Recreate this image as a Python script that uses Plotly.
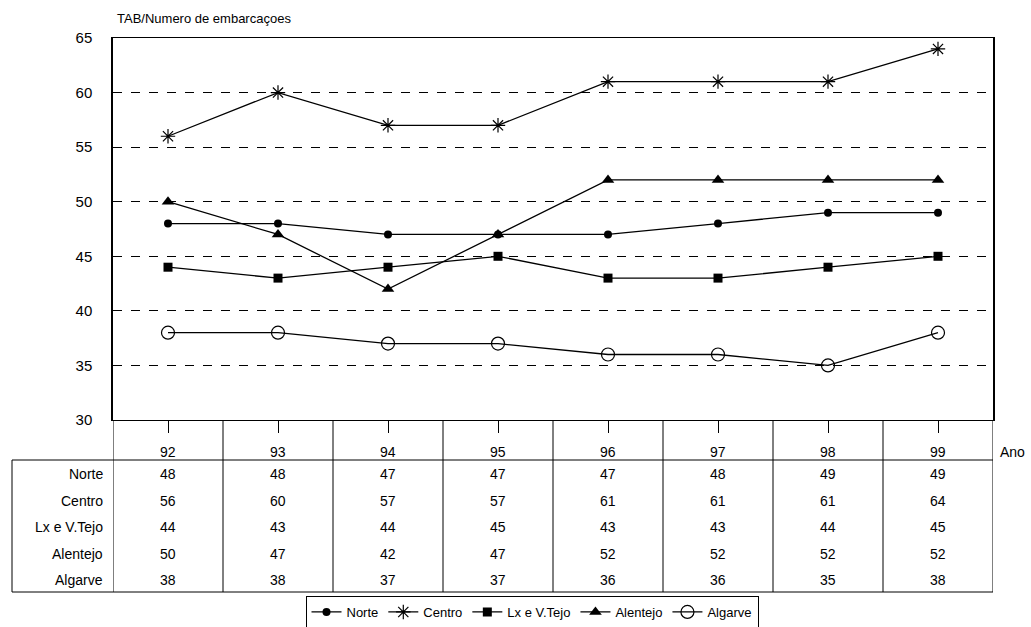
import plotly.graph_objects as go

# Annual values per region (TAB / number of vessels)
anos = ["92", "93", "94", "95", "96", "97", "98", "99"]
regioes = ["Norte", "Centro", "Lx e V.Tejo", "Alentejo", "Algarve"]
norte = [48, 48, 47, 47, 47, 48, 49, 49]
centro = [56, 60, 57, 57, 61, 61, 61, 64]
lx_vtejo = [44, 43, 44, 45, 43, 43, 44, 45]
alentejo = [50, 47, 42, 47, 52, 52, 52, 52]
algarve = [38, 38, 37, 37, 36, 36, 35, 38]
y_ticks = [30, 35, 40, 45, 50, 55, 60, 65]

series = [norte, centro, lx_vtejo, alentejo, algarve]
markers = [
    dict(symbol="circle", size=8, color="black"),
    dict(symbol="asterisk-open", size=12, color="black", line=dict(width=1.2, color="black")),
    dict(symbol="square", size=9, color="black"),
    dict(symbol="triangle-up", size=11, color="black"),
    dict(symbol="circle-open", size=13, color="black", line=dict(width=1.2, color="black")),
]

FONT = "Liberation Sans, Arial, sans-serif"

# plot area geometry in pixels
W, H = 1031, 627
L, R, T, B = 113, 38, 38, 207
PH = H - T - B
PW = W - L - R


def py(pix):
    """pixel row -> paper y"""
    return (H - B - pix) / PH


def px(pix):
    """pixel column -> paper x"""
    return (pix - L) / PW


fig = go.Figure()
for name, vals, mk in zip(regioes, series, markers):
    fig.add_trace(go.Scatter(
        x=anos, y=vals, name=name, mode="lines+markers",
        line=dict(color="black", width=1.3),
        marker=mk,
    ))

# table grid under the plot
table_bottom = 592
header_line = 460
shapes = []
for i in range(len(anos) + 1):
    shapes.append(dict(type="line", xref="x", yref="paper",
                       x0=i - 0.5, x1=i - 0.5, y0=0, y1=py(table_bottom),
                       line=dict(color="black", width=1)))
shapes.append(dict(type="line", xref="paper", yref="paper",
                   x0=px(12), x1=1, y0=py(header_line), y1=py(header_line),
                   line=dict(color="black", width=1)))
shapes.append(dict(type="line", xref="paper", yref="paper",
                   x0=px(12), x1=1, y0=py(table_bottom), y1=py(table_bottom),
                   line=dict(color="black", width=1)))
shapes.append(dict(type="line", xref="paper", yref="paper",
                   x0=px(12), x1=px(12), y0=py(header_line), y1=py(table_bottom),
                   line=dict(color="black", width=1)))

TXT = dict(family=FONT, size=14, color="black")
annotations = []
# year header
for i, a in enumerate(anos):
    annotations.append(dict(x=i, xref="x", y=py(452), yref="paper", text=a,
                            yanchor="middle", showarrow=False, font=TXT))
row_y = [474, 501, 527, 554, 580]
for name, vals, ry in zip(regioes, series, row_y):
    annotations.append(dict(x=px(105), xref="paper", y=py(ry), yref="paper", text=name,
                            xanchor="right", yanchor="middle", showarrow=False, font=TXT))
    for i, v in enumerate(vals):
        annotations.append(dict(x=i, xref="x", y=py(ry), yref="paper", text=str(v),
                                yanchor="middle", showarrow=False, font=TXT))
annotations.append(dict(x=px(998), xref="paper", y=py(452), yref="paper", text="Ano",
                        xanchor="left", yanchor="middle", showarrow=False, font=TXT))
annotations.append(dict(x=px(115), xref="paper", y=py(18), yref="paper",
                        text="TAB/Numero de embarcaçoes", xanchor="left", yanchor="middle",
                        showarrow=False, font=dict(family=FONT, size=13, color="black")))

fig.update_layout(
    width=W, height=H,
    margin=dict(l=L, r=R, t=T, b=B, autoexpand=False),
    paper_bgcolor="white", plot_bgcolor="white",
    font=dict(family=FONT, color="black"),
    shapes=shapes, annotations=annotations,
    showlegend=True,
    legend=dict(orientation="h", x=px(532), xanchor="center", y=py(596), yanchor="top",
                bordercolor="black", borderwidth=1, bgcolor="white",
                font=dict(family=FONT, size=13, color="black"),
                itemwidth=30, tracegroupgap=0),
)
fig.update_xaxes(
    type="category", range=[-0.5, len(anos) - 0.5],
    showticklabels=False, ticks="outside", ticklen=12, tickcolor="black",
    showline=True, linecolor="black", linewidth=1, mirror=True,
    showgrid=False, zeroline=False,
)
fig.update_yaxes(
    range=[30, 65], tickvals=y_ticks, ticks="", ticklabelstandoff=16,
    tickfont=dict(family=FONT, size=15, color="black"),
    showline=True, linecolor="black", linewidth=1.5, mirror=True,
    showgrid=True, gridcolor="black", gridwidth=0.8, griddash="dash",
    zeroline=False,
)

fig.write_html("out.html")
